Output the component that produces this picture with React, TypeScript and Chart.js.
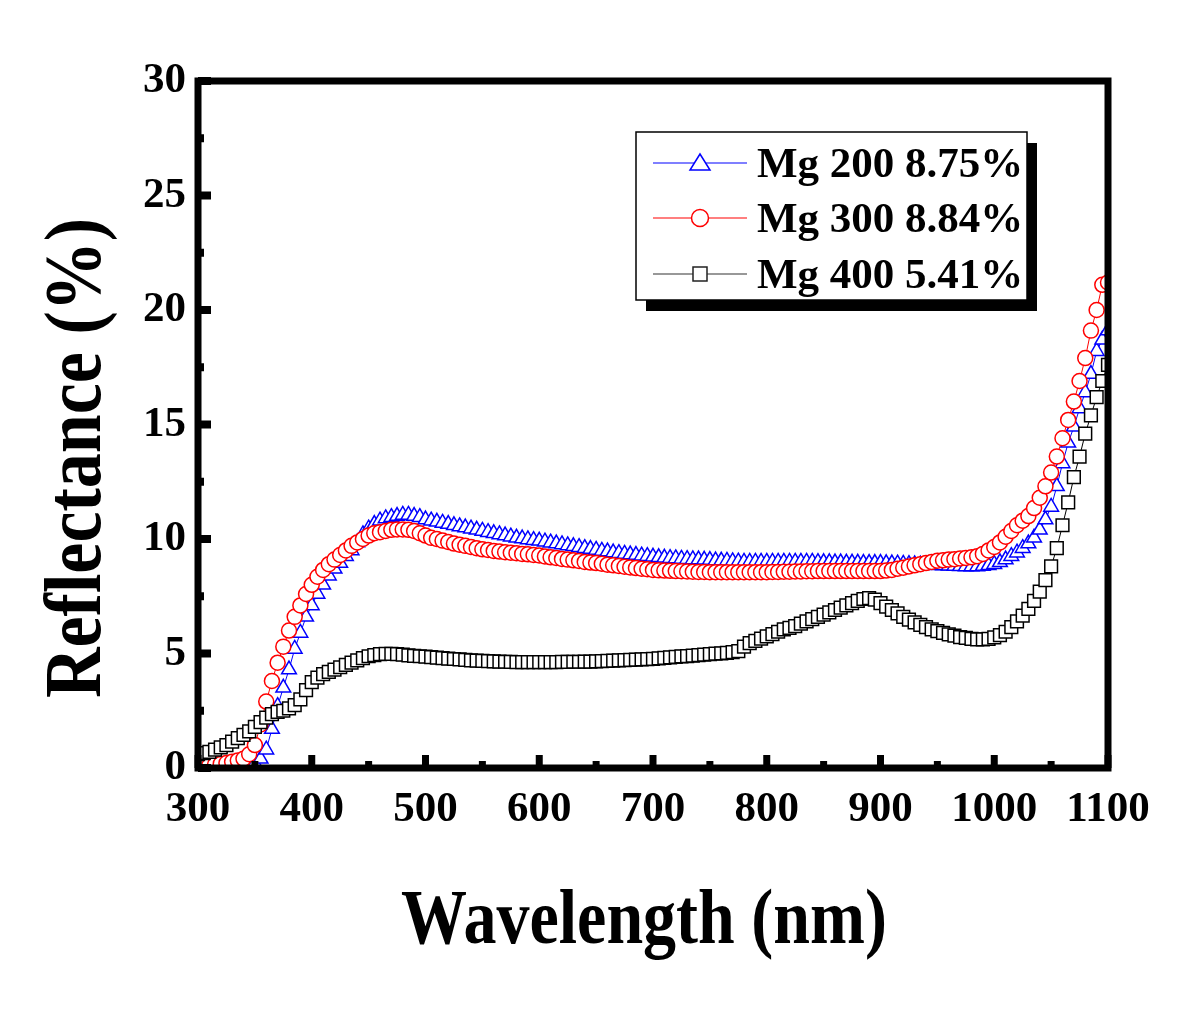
import React, { useEffect, useRef } from "react";
import { Chart, registerables } from "chart.js";

Chart.register(...registerables);

// Sampling grid: 300 nm to 1100 nm every 5 nm
const WL_START = 300;
const WL_END = 1100;
const WL_STEP = 5;
const wavelengths: number[] = [];
for (let w = WL_START; w <= WL_END; w += WL_STEP) wavelengths.push(w);

// Mg 200 8.75% (blue triangles)
const mg200: number[] = [
  0, 0, 0, 0, 0, 0, 0, 0, 0.02,
  0.05, 0.2, 0.4, 0.8, 1.7, 2.7, 3.5, 4.3, 5.2, 5.9, 6.6,
  7.1, 7.6, 8.0, 8.4, 8.7, 8.95, 9.25, 9.5, 9.85, 10.2, 10.45, 10.65, 10.8, 10.9, 10.95, 11.0, 11.05, 11.05, 11.0, 10.95,
  10.85, 10.8, 10.75, 10.7, 10.65, 10.6, 10.55, 10.5, 10.45, 10.4, 10.35, 10.3, 10.25, 10.2, 10.15, 10.1, 10.05, 10.02, 9.98, 9.95,
  9.92, 9.88, 9.84, 9.8, 9.76, 9.72, 9.68, 9.64, 9.6, 9.56, 9.52, 9.48, 9.45, 9.41, 9.38, 9.35, 9.32, 9.3, 9.27, 9.25,
  9.22, 9.2, 9.18, 9.16, 9.15, 9.13, 9.12, 9.11, 9.1, 9.09, 9.08, 9.06, 9.05, 9.04, 9.02, 9.01, 9.0, 9.0, 9.0, 9.0,
  9.0, 9.0, 9.0, 9.0, 9.0, 9.0, 9.0, 9.0, 9.0, 8.99, 8.98, 8.98, 8.97, 8.97, 8.96, 8.96, 8.96, 8.95, 8.95, 8.95,
  8.95, 8.94, 8.93, 8.92, 8.91, 8.9, 8.89, 8.88, 8.87, 8.86, 8.85, 8.84, 8.83, 8.82, 8.81, 8.8, 8.8, 8.8, 8.82, 8.85,
  8.9, 8.98, 9.1, 9.25, 9.4, 9.6, 9.8, 10.05, 10.4, 10.85, 11.4, 12.3, 13.3, 14.2, 14.9, 15.7, 16.4, 17.2, 18.2, 18.7, 19.1,
];

// Mg 300 8.84% (red circles)
const mg300: number[] = [
  0.1, 0.1, 0.12, 0.15, 0.18, 0.22, 0.27, 0.33, 0.4, 0.6, 1.0, 1.9, 2.9, 3.8, 4.6, 5.3, 6.0, 6.6, 7.1, 7.6,
  8.0, 8.35, 8.65, 8.9, 9.1, 9.3, 9.5, 9.7, 9.85, 10.0, 10.15, 10.25, 10.3, 10.35, 10.4, 10.42, 10.42, 10.4, 10.35, 10.25,
  10.15, 10.05, 10.0, 9.93, 9.87, 9.8, 9.75, 9.7, 9.65, 9.6, 9.55, 9.52, 9.48, 9.45, 9.42, 9.4, 9.38, 9.35, 9.33, 9.3,
  9.28, 9.24, 9.2, 9.17, 9.13, 9.1, 9.07, 9.04, 9.0, 8.97, 8.95, 8.92, 8.88, 8.85, 8.82, 8.79, 8.76, 8.73, 8.7, 8.68,
  8.65, 8.63, 8.62, 8.61, 8.6, 8.59, 8.58, 8.57, 8.56, 8.56, 8.55, 8.55, 8.55, 8.55, 8.55, 8.55, 8.55, 8.55, 8.55, 8.55,
  8.55, 8.56, 8.56, 8.57, 8.57, 8.58, 8.58, 8.59, 8.59, 8.6, 8.6, 8.6, 8.6, 8.6, 8.6, 8.6, 8.6, 8.6, 8.6, 8.6,
  8.6, 8.62, 8.65, 8.7, 8.75, 8.8, 8.85, 8.9, 8.95, 9.0, 9.05, 9.07, 9.1, 9.12, 9.15, 9.17, 9.2, 9.25, 9.35, 9.5,
  9.65, 9.85, 10.1, 10.35, 10.6, 10.8, 11.0, 11.35, 11.8, 12.3, 12.9, 13.6, 14.4, 15.2, 16.0, 16.9, 17.9, 19.1, 20.0, 21.1, 21.2,
];

// Mg 400 5.41% (black squares)
const mg400: number[] = [
  0.6, 0.65, 0.7, 0.8, 0.9, 1.0, 1.15, 1.3, 1.45, 1.6, 1.8, 2.0, 2.2, 2.35, 2.45, 2.5, 2.6, 2.75, 3.0, 3.4,
  3.75, 3.95, 4.1, 4.2, 4.3, 4.4, 4.5, 4.6, 4.7, 4.8, 4.88, 4.93, 4.97, 4.98, 4.98, 4.97, 4.95, 4.92, 4.9, 4.88,
  4.86, 4.84, 4.82, 4.8, 4.78, 4.76, 4.74, 4.72, 4.7, 4.69, 4.68, 4.67, 4.66, 4.65, 4.64, 4.63, 4.62, 4.62, 4.62, 4.62,
  4.62, 4.62, 4.62, 4.62, 4.63, 4.63, 4.64, 4.64, 4.65, 4.65, 4.66, 4.67, 4.68, 4.69, 4.7, 4.71, 4.72, 4.73, 4.74, 4.75,
  4.77, 4.79, 4.81, 4.83, 4.85, 4.87, 4.89, 4.91, 4.93, 4.95, 4.97, 4.99, 5.01, 5.03, 5.06, 5.1, 5.3, 5.45, 5.55, 5.65,
  5.75, 5.85, 5.95, 6.05, 6.12, 6.2, 6.3, 6.4, 6.5, 6.6, 6.7, 6.8, 6.9, 7.0, 7.1, 7.2, 7.3, 7.38, 7.42, 7.35,
  7.2, 7.05, 6.9, 6.75, 6.6, 6.48, 6.36, 6.25, 6.15, 6.05, 5.98, 5.9, 5.84, 5.78, 5.72, 5.68, 5.64, 5.62, 5.62, 5.64,
  5.7, 5.8, 5.95, 6.15, 6.4, 6.65, 6.95, 7.3, 7.7, 8.2, 8.8, 9.6, 10.6, 11.6, 12.7, 13.6, 14.6, 15.4, 16.2, 16.9, 17.6,
];

const seriesLabels = ["Mg 200 8.75%", "Mg 300 8.84%", "Mg 400 5.41%"];
const seriesColors = ["#0000ff", "#ff0000", "#000000"];
const seriesStyles = ["triangle", "circle", "rect"];

const X_MIN = 300, X_MAX = 1100, X_MAJOR = 100, X_MINOR = 50;
const Y_MIN = 0, Y_MAX = 30, Y_MAJOR = 5, Y_MINOR = 2.5;
const X_TITLE = "Wavelength (nm)";
const Y_TITLE = "Reflectance (%)";

const FONT = "'Liberation Serif', 'Times New Roman', serif";

function legendMarker(ctx: CanvasRenderingContext2D, style: string, x: number, y: number, color: string) {
  ctx.save();
  ctx.beginPath();
  if (style === "triangle") {
    ctx.moveTo(x, y - 9);
    ctx.lineTo(x - 10, y + 7);
    ctx.lineTo(x + 10, y + 7);
    ctx.closePath();
  } else if (style === "circle") {
    ctx.arc(x, y, 8.5, 0, Math.PI * 2);
  } else {
    ctx.rect(x - 7, y - 7, 14, 14);
  }
  ctx.fillStyle = "#fff";
  ctx.fill();
  ctx.lineWidth = 1.5;
  ctx.strokeStyle = color;
  ctx.stroke();
  ctx.restore();
}

const framePlugin = {
  id: "frame",
  afterDatasetsDraw(chart: any) {
    const { ctx, chartArea: a, scales } = chart;
    ctx.save();
    ctx.fillStyle = "#000";
    for (let v = X_MIN; v <= X_MAX; v += X_MINOR) {
      const px = scales.x.getPixelForValue(v);
      const len = v % X_MAJOR === 0 ? 13 : 7;
      ctx.fillRect(px - 3.5, a.bottom - len, 7, len);
    }
    for (let v = Y_MIN; v <= Y_MAX; v += Y_MINOR) {
      const py = scales.y.getPixelForValue(v);
      const len = v % Y_MAJOR === 0 ? 13 : 6;
      ctx.fillRect(a.left, py - 4, len, 8);
    }
    ctx.lineWidth = 7;
    ctx.strokeStyle = "#000";
    ctx.strokeRect(a.left, a.top, a.right - a.left, a.bottom - a.top);
    ctx.restore();
  },
  afterDraw(chart: any) {
    const { ctx } = chart;
    ctx.save();
    ctx.fillStyle = "#000";
    ctx.textAlign = "center";
    ctx.textBaseline = "alphabetic";
    ctx.save();
    ctx.translate(644, 943);
    ctx.scale(1, 1.17);
    ctx.font = `bold 66px ${FONT}`;
    ctx.fillText(X_TITLE, 0, 0);
    ctx.restore();

    ctx.save();
    ctx.translate(100, 458);
    ctx.rotate(-Math.PI / 2);
    ctx.scale(1, 1.14);
    ctx.font = `bold 70px ${FONT}`;
    ctx.fillText(Y_TITLE, 0, 0);
    ctx.restore();

    // legend box with shadow
    const bx = 636, by = 132, bw = 391, bh = 168;
    ctx.fillStyle = "#000";
    ctx.fillRect(bx + 10, by + 11, bw, bh);
    ctx.fillStyle = "#fff";
    ctx.fillRect(bx, by, bw, bh);
    ctx.lineWidth = 1.5;
    ctx.strokeStyle = "#000";
    ctx.strokeRect(bx, by, bw, bh);

    const rows = [163, 218, 274];
    for (let i = 0; i < seriesLabels.length; i++) {
      const y = rows[i];
      ctx.beginPath();
      ctx.moveTo(653, y);
      ctx.lineTo(747, y);
      ctx.lineWidth = 1.2;
      ctx.strokeStyle = i === 2 ? "#333" : seriesColors[i];
      ctx.stroke();
      legendMarker(ctx, seriesStyles[i], 700, y, i === 2 ? "#222" : seriesColors[i]);
      ctx.fillStyle = "#000";
      ctx.textAlign = "left";
      ctx.textBaseline = "alphabetic";
      ctx.font = `bold 43px ${FONT}`;
      ctx.fillText(seriesLabels[i], 757, y + 14);
    }
    ctx.restore();
  },
};

export default function App() {
  const canvasRef = useRef<HTMLCanvasElement | null>(null);

  useEffect(() => {
    document.body.style.margin = "0";
    const canvas = canvasRef.current;
    if (!canvas) return;
    const series = [mg200, mg300, mg400];
    const pointRadii = [8.5, 7.5, 9];
    const datasets = series.map((vals, i) => ({
      label: seriesLabels[i],
      data: wavelengths.map((w, j) => ({ x: w, y: vals[j] })),
      borderColor: seriesColors[i],
      backgroundColor: "#ffffff",
      borderWidth: 1,
      pointStyle: seriesStyles[i] as any,
      pointRadius: pointRadii[i],
      pointBorderWidth: 1.5,
      pointBorderColor: seriesColors[i],
      pointBackgroundColor: "#ffffff",
      showLine: true,
      tension: 0,
      order: 3 - i,
    }));

    const tickFont = { family: FONT, size: 43, weight: "bold" as const };
    const chart = new Chart(canvas, {
      type: "line",
      data: { datasets },
      options: {
        animation: false,
        responsive: false,
        devicePixelRatio: 1,
        layout: { padding: { top: 81, right: 92, left: 0, bottom: 0 } },
        plugins: { legend: { display: false }, tooltip: { enabled: false } },
        scales: {
          x: {
            type: "linear",
            min: X_MIN,
            max: X_MAX,
            grid: { display: false, drawTicks: false },
            border: { display: false },
            ticks: {
              stepSize: X_MAJOR, color: "#000", font: tickFont, padding: 16, maxRotation: 0,
              callback: (v: any) => String(v),
            },
            afterFit: (s: any) => { s.height = 250; },
          },
          y: {
            type: "linear",
            min: Y_MIN,
            max: Y_MAX,
            grid: { display: false, drawTicks: false },
            border: { display: false },
            ticks: {
              stepSize: Y_MAJOR, color: "#000", font: tickFont, padding: 12,
              callback: (v: any) => String(v),
            },
            afterFit: (s: any) => { s.width = 198; },
          },
        },
      },
      plugins: [framePlugin],
    });
    return () => chart.destroy();
  }, []);

  return (
    <div style={{ width: 1200, height: 1018, background: "#fff" }}>
      <canvas ref={canvasRef} width={1200} height={1018} style={{ width: 1200, height: 1018, display: "block" }} />
    </div>
  );
}
